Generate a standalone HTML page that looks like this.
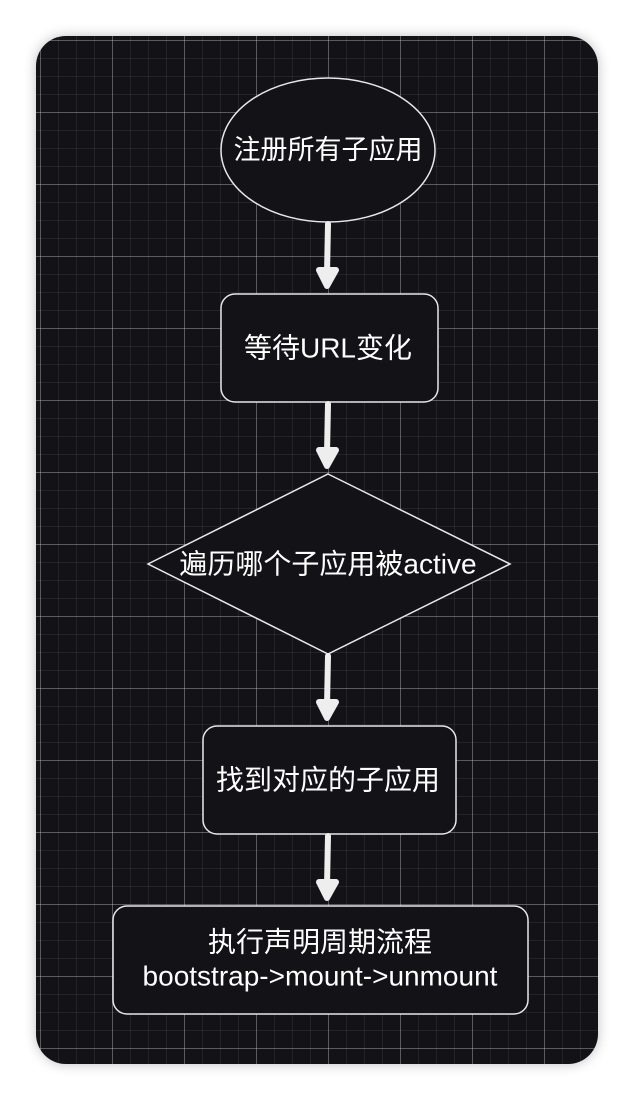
<!DOCTYPE html>
<html><head><meta charset="utf-8"><style>
html,body{margin:0;padding:0;background:#fff;}
body{width:634px;height:1100px;position:relative;overflow:hidden;}
.card{position:absolute;left:36px;top:36px;width:562px;height:1028px;border-radius:30px;background-color:#131216;
background-image:
linear-gradient(to right,rgba(255,255,255,0.25) 1px,transparent 1px),
linear-gradient(to bottom,rgba(255,255,255,0.25) 1px,transparent 1px),
linear-gradient(to right,rgba(255,255,255,0.07) 1px,transparent 1px),
linear-gradient(to bottom,rgba(255,255,255,0.07) 1px,transparent 1px);
background-size:72px 72px,72px 72px,18px 18px,18px 18px;
background-position:4px 4px,4px 4px,4px 4px,4px 4px;
box-shadow:0 0 12px rgba(0,0,0,0.25);overflow:hidden;}
svg{position:absolute;left:0;top:0;}
text{font-family:"Liberation Sans","Noto Sans CJK SC",sans-serif;fill:#fff;font-size:28px;text-anchor:middle;dominant-baseline:central;}
</style></head><body>
<div class="card"></div>
<svg width="634" height="1100">
<g fill="#131216" stroke="#e8e8e8" stroke-width="1.5">
<ellipse cx="328" cy="150" rx="107" ry="72"/>
<rect x="221" y="294" width="217" height="108" rx="14"/>
<polygon points="328,474 510,564 328,654 148,564"/>
<rect x="203" y="726" width="253" height="108" rx="14"/>
<rect x="113" y="906" width="415" height="108" rx="14"/>
</g>
<g stroke="#eee" stroke-width="6" stroke-linecap="round" stroke-linejoin="round" fill="#eee">
<path d="M328 224 L327 274" fill="none"/><path d="M319 270 L327 286 L336 270 Z"/>
<path d="M328 404 L327 454" fill="none"/><path d="M319 450 L327 466 L336 450 Z"/>
<path d="M328 656 L327 706" fill="none"/><path d="M319 702 L327 718 L336 702 Z"/>
<path d="M328 836 L327 886" fill="none"/><path d="M319 882 L327 898 L336 882 Z"/>
</g>
<text x="328" y="150" style="font-size:27px">注册所有子应用</text>
<text x="328" y="348">等待URL变化</text>
<text x="328" y="564">遍历哪个子应用被active</text>
<text x="328" y="780">找到对应的子应用</text>
<text x="320" y="942">执行声明周期流程</text>
<text x="320" y="976">bootstrap-&gt;mount-&gt;unmount</text>
</svg>
</body></html>
